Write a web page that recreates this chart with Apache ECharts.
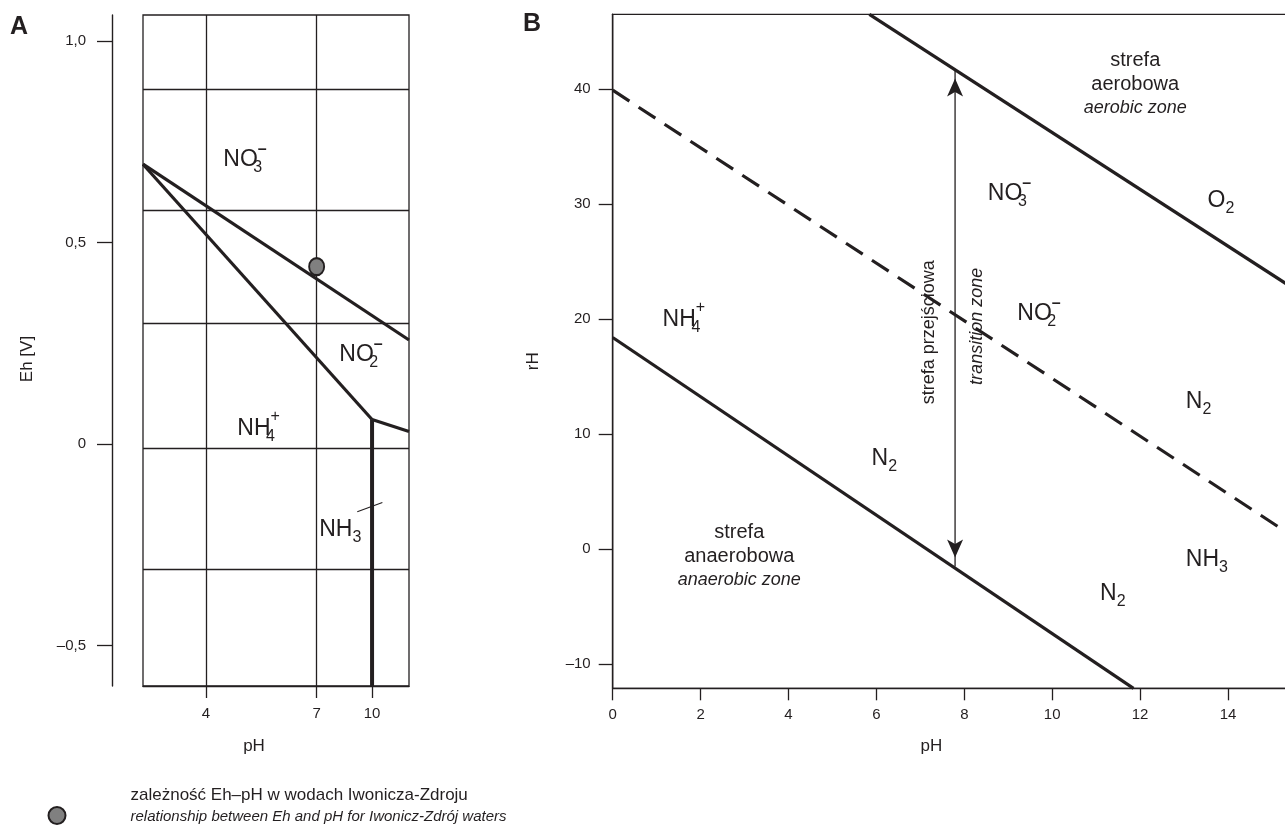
<!DOCTYPE html>
<html><head><meta charset="utf-8">
<script src="https://cdn.jsdelivr.net/npm/echarts@6/dist/echarts.min.js"></script>
<style>html,body{margin:0;padding:0;background:#fff}#c{width:1285px;height:829px}</style>
</head><body><div id="c"></div>
<script>
// ================= DATA =================
// Panel A : Eh–pH diagram (pH, Eh [V])
const ehTicksA = [-0.5, 0, 0.5, 1.0];
const phTicksA = [4, 7, 10];
const phRangeA = [2.3, 12];
const ehRangeA = [-0.6, 1.064];
const ehGridA = [0.881, 0.579, 0.297, -0.009, -0.308];
const phGridA = [4, 7];
const lineNO3NO2 = [[2.3, 0.694], [12, 0.258]];
const lineNO2NH4 = [[2.3, 0.694], [10, 0.061]];
const lineNO2NH3 = [[10, 0.061], [12, 0.031]];
const lineNH4NH3 = [[10, 0.061], [10, -0.6]];
const pointerNH3 = [[9.2, -0.168], [10.56, -0.145]];
const iwoniczPoint = [[7, 0.44]];
// [main, subscript, charge, pH, Eh]
const ionsA = [
  ['NO', '3', '-', 5.06, 0.706],
  ['NO', '2', '-', 9.4, 0.222],
  ['NH', '4', '+', 5.43, 0.039],
  ['NH', '3', '', 8.28, -0.213]
];

// Panel B : rH–pH diagram (pH, rH)
const rhTicksB = [-10, 0, 10, 20, 30, 40];
const phRangeB = [0, 16];
const rhRangeB = [-12.1, 46.5];
const lineUpperB = [[5.84, 46.5], [16, 21.4]];
const lineDashedB = [[0, 39.9], [16, -0.2]];
const lineLowerB = [[0, 18.4], [11.85, -12.1]];
const arrowB = [[7.79, 41.7], [7.79, -1.5]];
const ionsB = [
  ['NO', '3', '-', 9.03, 30.9],
  ['O', '2', '', 13.84, 30.3],
  ['NO', '2', '-', 9.70, 20.46],
  ['NH', '4', '+', 1.62, 19.94],
  ['N', '2', '', 13.33, 12.83],
  ['NH', '3', '', 13.52, -0.93],
  ['N', '2', '', 11.38, -3.83],
  ['N', '2', '', 6.18, 7.85]
];
// [polish, english, pH, rH]
const zonesB = [
  ['strefa\naerobowa', 'aerobic zone', 11.89, 40.42],
  ['strefa\nanaerobowa', 'anaerobic zone', 2.88, -0.58]
];
const transitionB = [
  ['strefa przejściowa', 'zv', 7.19, 18.85],
  ['transition zone', 'itv', 8.28, 19.37]
];
const legendLines = ['zależność Eh–pH w wodach Iwonicza-Zdroju',
                     'relationship between Eh and pH for Iwonicz-Zdrój waters'];

// ================= HELPERS =================
const C = '#231f20';
const FONT = 'Liberation Sans, Arial, sans-serif';
// schematic (non-linear) pH scale of panel A: compressed above pH 7
const phToSA = ph => ph <= 7 ? ph : 7 + (ph - 7) / 2;
const sToPhA = s => s <= 7 ? s : 7 + (s - 7) * 2;
const mapA = arr => arr.map(p => [phToSA(p[0]), p[1]]);
const commaNum = v => v === 0 ? '0' : (v < 0 ? '–' : '') + Math.abs(v).toFixed(1).replace('.', ',');
const dashNum = v => (v < 0 ? '–' : '') + Math.abs(v);

function ionText(main, sub, sign) {
  let s = '{m|' + main + '}';
  if (sub) s += (sign ? '{s0|' + sub + '}' : '{s|' + sub + '}');
  if (sign === '-') s += '{neg|–}';
  if (sign === '+') s += '{pos|+}';
  return s;
}
const richIons = {
  m: {fontSize: 23, lineHeight: 26, color: C, fontFamily: FONT},
  s: {fontSize: 16, lineHeight: 26, padding: [16, 0, 0, 0], color: C, fontFamily: FONT},
  s0: {fontSize: 16, lineHeight: 26, padding: [16, 0, 0, 0], width: 0, color: C, fontFamily: FONT},
  neg: {fontSize: 16, lineHeight: 26, fontWeight: 'bold', padding: [0, 0, 20, 0], color: C, fontFamily: FONT},
  pos: {fontSize: 16, lineHeight: 26, padding: [0, 0, 24, 0], color: C, fontFamily: FONT},
  z: {fontSize: 20, lineHeight: 24, color: C, fontFamily: FONT},
  it: {fontSize: 18, lineHeight: 23, fontStyle: 'italic', color: C, fontFamily: FONT},
  zv: {fontSize: 18, lineHeight: 22, color: C, fontFamily: FONT},
  itv: {fontSize: 18, lineHeight: 22, fontStyle: 'italic', color: C, fontFamily: FONT}
};

function lineSeries(data, xi, width, extra) {
  return Object.assign({
    type: 'line', xAxisIndex: xi, yAxisIndex: xi, data: data,
    symbol: 'none', silent: true, animation: false,
    lineStyle: {color: C, width: width, cap: 'butt'}
  }, extra || {});
}
function labelSeries(items, xi) {
  return {
    type: 'scatter', xAxisIndex: xi, yAxisIndex: xi, silent: true, animation: false,
    symbolSize: 1, itemStyle: {color: 'rgba(0,0,0,0)', opacity: 1}, z: 10,
    label: {show: true, position: 'inside', color: C, opacity: 1, fontFamily: FONT,
            formatter: p => p.name, rich: richIons},
    data: items
  };
}

const axisCommon = {
  axisLine: {show: true, onZero: false, lineStyle: {color: C, width: 1.4}},
  splitLine: {show: false}
};

const itemsA = ionsA.map(r => ({name: ionText(r[0], r[1], r[2]), value: [phToSA(r[3]), r[4]]}));
const itemsB = ionsB.map(r => ({name: ionText(r[0], r[1], r[2]), value: [r[3], r[4]]}))
  .concat(zonesB.map(r => ({name: r[0].split('\n').map(t => '{z|' + t + '}').join('\n') + '\n{it|' + r[1] + '}', value: [r[2], r[3]]})))
  .concat(transitionB.map(r => ({name: '{' + r[1] + '|' + r[0] + '}', value: [r[2], r[3]], label: {rotate: 90}})));

const option = {
  animation: false,
  backgroundColor: '#fff',
  textStyle: {fontFamily: FONT, color: C},
  title: [
    {text: 'A', left: 10, top: 15, padding: 0, textStyle: {fontSize: 25, fontWeight: 'bold', color: C, fontFamily: FONT}},
    {text: 'B', left: 523, top: 12, padding: 0, textStyle: {fontSize: 25, fontWeight: 'bold', color: C, fontFamily: FONT}}
  ],
  legend: {
    data: ['iwonicz'], left: 47.5, top: 787, padding: 0, icon: 'circle',
    itemWidth: 17, itemHeight: 17, selectedMode: false,
    formatter: () => '{a|' + legendLines[0] + '}\n{b|' + legendLines[1] + '}',
    textStyle: {padding: [0, 0, 20, 60], rich: {
      a: {fontSize: 17, lineHeight: 22, color: C, fontFamily: FONT},
      b: {fontSize: 15, lineHeight: 20, fontStyle: 'italic', color: C, fontFamily: FONT}
    }}
  },
  grid: [
    {left: 143, top: 15, width: 266, height: 671, show: true, borderColor: C, borderWidth: 1.3,
     containLabel: false, outerBoundsMode: 'none'},
    {left: 612.7, top: 14.3, width: 703.2, height: 674, show: true, borderColor: C, borderWidth: 1.3,
     containLabel: false, outerBoundsMode: 'none'}
  ],
  xAxis: [
    Object.assign({}, axisCommon, {
      gridIndex: 0, type: 'value', position: 'bottom', min: phToSA(phRangeA[0]), max: phToSA(phRangeA[1]),
      axisTick: {show: true, inside: false, length: 12, customValues: phTicksA.map(phToSA), lineStyle: {color: C, width: 1.3}},
      axisLabel: {customValues: phTicksA.map(phToSA), formatter: v => String(Math.round(sToPhA(v))),
                  margin: 20, fontSize: 15, color: C, fontFamily: FONT},
      name: 'pH', nameLocation: 'middle', nameGap: 52,
      nameTextStyle: {color: C, fontSize: 17, fontFamily: FONT, padding: [0, 44, 0, 0]}
    }),
    Object.assign({}, axisCommon, {
      gridIndex: 1, type: 'value', position: 'bottom', min: phRangeB[0], max: phRangeB[1], interval: 2,
      axisTick: {show: true, inside: false, length: 12, lineStyle: {color: C, width: 1.3}},
      axisLabel: {margin: 19, fontSize: 15, color: C, fontFamily: FONT},
      name: 'pH', nameLocation: 'middle', nameGap: 50,
      nameTextStyle: {color: C, fontSize: 17, fontFamily: FONT, padding: [0, 66, 0, 0]}
    })
  ],
  yAxis: [
    Object.assign({}, axisCommon, {
      gridIndex: 0, type: 'value', position: 'left', min: ehRangeA[0], max: ehRangeA[1], offset: 31,
      axisTick: {show: true, inside: false, length: 15, customValues: ehTicksA, lineStyle: {color: C, width: 1.3}},
      axisLabel: {customValues: ehTicksA, formatter: commaNum, margin: 26, fontSize: 15, color: C, fontFamily: FONT},
      name: 'Eh [V]', nameLocation: 'middle', nameGap: 76,
      nameTextStyle: {color: C, fontSize: 17, fontFamily: FONT, padding: [0, 17, 0, 0]}
    }),
    Object.assign({}, axisCommon, {
      gridIndex: 1, type: 'value', position: 'left', min: rhRangeB[0], max: rhRangeB[1],
      axisTick: {show: true, inside: false, length: 14, customValues: rhTicksB, lineStyle: {color: C, width: 1.3}},
      axisLabel: {customValues: rhTicksB, formatter: dashNum, margin: 22, fontSize: 15, color: C, fontFamily: FONT},
      name: 'rH', nameLocation: 'middle', nameGap: 71,
      nameTextStyle: {color: C, fontSize: 17, fontFamily: FONT, padding: [0, 20, 0, 0]}
    })
  ],
  series: [
    // panel A grid lines
    lineSeries([], 0, 1.3, {markLine: {
      silent: true, animation: false, symbol: ['none', 'none'], label: {show: false},
      lineStyle: {color: C, width: 1.3, type: 'solid'},
      emphasis: {disabled: true},
      data: phGridA.map(p => ({xAxis: phToSA(p)})).concat(ehGridA.map(e => ({yAxis: e})))
    }}),
    lineSeries(mapA(lineNO3NO2), 0, 3.2),
    lineSeries(mapA(lineNO2NH4), 0, 3.2),
    lineSeries(mapA(lineNO2NH3), 0, 3.2),
    lineSeries(mapA(lineNH4NH3), 0, 4),
    lineSeries(mapA(pointerNH3), 0, 1.1),
    {
      name: 'iwonicz', type: 'scatter', xAxisIndex: 0, yAxisIndex: 0, silent: true, animation: false,
      symbol: 'circle', symbolSize: [15, 17], z: 5,
      itemStyle: {color: '#808080', borderColor: C, borderWidth: 2, opacity: 1},
      data: mapA(iwoniczPoint)
    },
    labelSeries(itemsA, 0),
    // panel B
    lineSeries(lineUpperB, 1, 3.2),
    lineSeries(lineDashedB, 1, 3.2, {lineStyle: {color: C, width: 3.2, type: [20, 11], cap: 'butt'}}),
    lineSeries(lineLowerB, 1, 3.2),
    lineSeries([
      {value: arrowB[0], symbol: 'arrow', symbolSize: [12, 18], symbolRotate: 0, symbolOffset: [0, 9]},
      {value: arrowB[1], symbol: 'arrow', symbolSize: [12, 18], symbolRotate: 180, symbolOffset: [0, -9]}
    ], 1, 1.3, {symbol: 'arrow', showSymbol: true, showAllSymbol: true, itemStyle: {color: C}}),
    labelSeries(itemsB, 1)
  ]
};

const chart = echarts.init(document.getElementById('c'), null, {renderer: 'canvas'});
chart.setOption(option);
</script></body></html>
